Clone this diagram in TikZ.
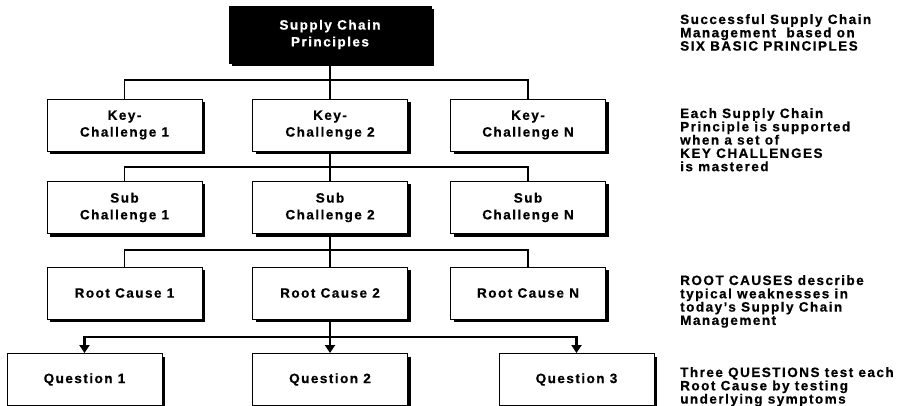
\documentclass[tikz,border=0pt]{standalone}
\usepackage{fontspec}
\usetikzlibrary{arrows.meta,shadows}
\newfontfamily\lab{Liberation Sans}[LetterSpace=11, BoldFeatures={FakeBold=0.6}]
\begin{document}
\begin{tikzpicture}[x=1pt,y=-1pt,
  box/.style={draw=black, line width=0.9pt, fill=white, minimum width=155pt,
    minimum height=52pt, inner sep=0pt, align=center,
    font=\lab\bfseries\fontsize{13.5}{16.8}\selectfont,
    drop shadow={shadow xshift=3pt,shadow yshift=-3pt,opacity=1,fill=black}},
  topbox/.style={box, fill=black, text=white, minimum width=202pt, minimum height=57pt},
  conn/.style={draw=black, line width=1.2pt},
  tconn/.style={draw=black, line width=2.5pt, line join=miter},
  tip/.style={-{Triangle[length=8pt,width=10pt]}},
  note/.style={anchor=north west, inner sep=0pt, align=left,
    font=\lab\bfseries\fontsize{13.5}{13.3}\selectfont}]
\useasboundingbox (0,0) rectangle (899,406);

\node[topbox] (top) at (330,34.5) {Supply Chain\\Principles};

\node[box] (k1) at (124.5,125) {Key-\\Challenge 1};
\node[box] (k2) at (330,125) {Key-\\Challenge 2};
\node[box] (kn) at (528,125) {Key-\\Challenge N};

\node[box] (s1) at (124.5,207.5) {Sub\\Challenge 1};
\node[box] (s2) at (330,207.5) {Sub\\Challenge 2};
\node[box] (sn) at (528,207.5) {Sub\\Challenge N};

\node[box] (r1) at (124.5,293) {Root Cause 1};
\node[box] (r2) at (330,293) {Root Cause 2};
\node[box] (rn) at (528,293) {Root Cause N};

\node[box] (q1) at (84.5,379.5) {Question 1};
\node[box] (q2) at (330,379.5) {Question 2};
\node[box] (q3) at (576.5,379.5) {Question 3};

\coordinate (j0) at (330,80);
\coordinate (j1) at (330,167);
\coordinate (j2) at (330,250);
\coordinate (j3) at (330,337);

\draw[conn] (top.south) -- (j0);
\draw[conn] (k1.north) |- (j0) -| (kn.north);
\draw[conn] (j0) -- (k2.north);

\draw[conn] (k2.south) -- (j1);
\draw[conn] (s1.north) |- (j1) -| (sn.north);
\draw[conn] (j1) -- (s2.north);

\draw[conn] (s2.south) -- (j2);
\draw[conn] (r1.north) |- (j2) -| (rn.north);
\draw[conn] (j2) -- (r2.north);

\draw[tconn] (r2.south) -- (j3);
\draw[tconn,tip] (j3) -| (q1.north);
\draw[tconn,tip] (j3) -| (q3.north);
\draw[tconn,tip] (j3) -- (q2.north);

\node[note] (n1) at (680,14) {Successful Supply Chain\\Management~ based on\\SIX BASIC PRINCIPLES};
\node[note] (n2) at (680,108) {Each Supply Chain\\Principle is supported\\when a set of\\KEY CHALLENGES\\is mastered};
\node[note] (n3) at (680,275) {ROOT CAUSES describe\\typical weaknesses in\\today’s Supply Chain\\Management};
\node[note] (n4) at (680,367) {Three QUESTIONS test each\\Root Cause by testing\\underlying symptoms};
\end{tikzpicture}
\end{document}
